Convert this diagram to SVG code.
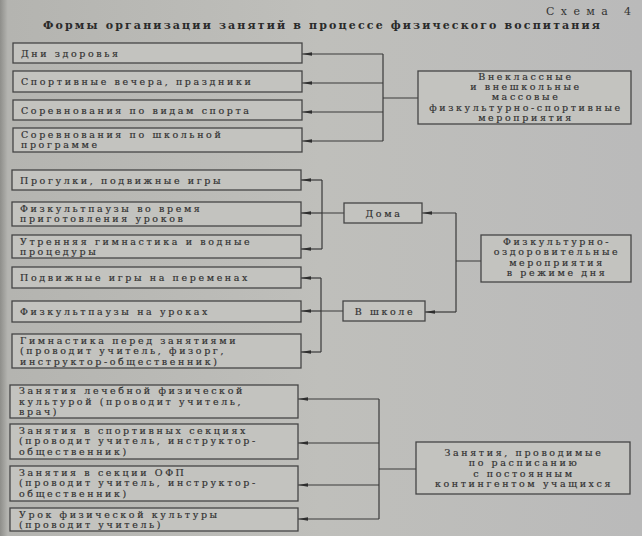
<svg xmlns="http://www.w3.org/2000/svg" width="642" height="536" viewBox="0 0 642 536">
<defs>
<linearGradient id="bg" x1="0" y1="0" x2="1" y2="0">
<stop offset="0" stop-color="#8e8e8a"/>
<stop offset="0.012" stop-color="#b4b4b0"/>
<stop offset="0.5" stop-color="#bfbfbb"/>
<stop offset="1" stop-color="#bababa"/>
</linearGradient>
<marker id="ah" markerUnits="userSpaceOnUse" markerWidth="11" markerHeight="6" refX="10" refY="3" orient="auto">
<path d="M0,1.2 L10,3 L0,4.8 z" fill="#2e2e2e"/>
</marker>
<style>
.box{fill:#c3c3bf;stroke:#454545;stroke-width:1.3}
.t{font-family:"DejaVu Serif","Liberation Serif",serif;font-size:9.5px;letter-spacing:2.6px;fill:#2f2f2f;stroke:#3a3a3a;stroke-width:0.2}
.c{text-anchor:middle}
.ln{stroke:#3a3a3a;stroke-width:1.2;fill:none}
.ar{marker-end:url(#ah)}
.title{font-family:"DejaVu Serif","Liberation Serif",serif;font-size:11px;font-weight:bold;fill:#2a2a2a}
.sch{font-family:"DejaVu Serif","Liberation Serif",serif;font-size:11px;fill:#333}
</style>
</defs>
<rect x="0" y="0" width="642" height="536" fill="url(#bg)"/>
<text class="sch" x="546" y="15" textLength="85" lengthAdjust="spacing">Схема 4</text>
<text class="title" x="43" y="29" textLength="557" lengthAdjust="spacing">Формы организации занятий в процессе физического воспитания</text>

<g id="connectors">
<path class="ln" d="M383,54 V141 M383,98 H418"/>
<path class="ln ar" d="M383,54 H302"/>
<path class="ln ar" d="M383,83 H302"/>
<path class="ln ar" d="M383,112 H302"/>
<path class="ln ar" d="M383,141 H302"/>
<path class="ln" d="M322,180 V249 M344,213 H322"/>
<path class="ln ar" d="M322,180 H301"/>
<path class="ln ar" d="M322,213 H301"/>
<path class="ln ar" d="M322,249 H301"/>
<path class="ln" d="M321,278 V352 M343,311 H321"/>
<path class="ln ar" d="M321,278 H301"/>
<path class="ln ar" d="M321,311 H301"/>
<path class="ln ar" d="M321,352 H301"/>
<path class="ln" d="M456,213 V312 M481,261 H456"/>
<path class="ln ar" d="M456,213 H422"/>
<path class="ln ar" d="M456,312 H425"/>
<path class="ln" d="M379,399 V519 M416,469 H379"/>
<path class="ln ar" d="M379,399 H298"/>
<path class="ln ar" d="M379,443 H298"/>
<path class="ln ar" d="M379,485 H298"/>
<path class="ln ar" d="M379,519 H298"/>
</g>

<g id="n1"><rect class="box" x="13" y="43" width="289" height="20"/><text class="t" x="21" y="56.5">Дни здоровья</text></g>
<g id="n2"><rect class="box" x="13" y="71" width="289" height="21"/><text class="t" x="21" y="85">Спортивные вечера, праздники</text></g>
<g id="n3"><rect class="box" x="13" y="100" width="289" height="20"/><text class="t" x="21" y="113.5">Соревнования по видам спорта</text></g>
<g id="n4"><rect class="box" x="13" y="128" width="289" height="24"/><text class="t" x="21" y="137.5">Соревнования по школьной</text><text class="t" x="21" y="148">программе</text></g>
<g id="r1"><rect class="box" x="418" y="71" width="213" height="53"/>
<text class="t c" x="526" y="80">Внеклассные</text>
<text class="t c" x="526" y="90.2">и внешкольные</text>
<text class="t c" x="526" y="100.4">массовые</text>
<text class="t c" x="526" y="110.6">физкультурно-спортивные</text>
<text class="t c" x="526" y="120.8">мероприятия</text></g>

<g id="p1"><rect class="box" x="12" y="170" width="289" height="20"/><text class="t" x="20" y="183.5">Прогулки, подвижные игры</text></g>
<g id="p2"><rect class="box" x="12" y="202" width="289" height="24"/><text class="t" x="20" y="211.5">Физкультпаузы во время</text><text class="t" x="20" y="222">приготовления уроков</text></g>
<g id="p3"><rect class="box" x="12" y="235" width="289" height="23"/><text class="t" x="20" y="244.5">Утренняя гимнастика и водные</text><text class="t" x="20" y="255">процедуры</text></g>
<g id="p4"><rect class="box" x="12" y="267" width="289" height="21"/><text class="t" x="20" y="281">Подвижные игры на переменах</text></g>
<g id="p5"><rect class="box" x="12" y="301" width="289" height="21"/><text class="t" x="20" y="314.5">Физкультпаузы на уроках</text></g>
<g id="p6"><rect class="box" x="12" y="334" width="289" height="34"/><text class="t" x="20" y="343.5">Гимнастика перед занятиями</text><text class="t" x="20" y="354">(проводит учитель, физорг,</text><text class="t" x="20" y="364.5">инструктор-общественник)</text></g>
<g id="doma"><rect class="box" x="344" y="203" width="78" height="20"/><text class="t c" x="384" y="216.5">Дома</text></g>
<g id="shkola"><rect class="box" x="343" y="301" width="82" height="20"/><text class="t c" x="385" y="314.5">В школе</text></g>
<g id="r2"><rect class="box" x="481" y="235" width="150" height="47"/>
<text class="t c" x="557" y="245">Физкультурно-</text>
<text class="t c" x="557" y="255.3">оздоровительные</text>
<text class="t c" x="557" y="265.6">мероприятия</text>
<text class="t c" x="557" y="275.9">в режиме дня</text></g>

<g id="s1"><rect class="box" x="10" y="385" width="288" height="33"/><text class="t" x="19" y="394">Занятия лечебной физической</text><text class="t" x="19" y="404.5">культурой (проводит учитель,</text><text class="t" x="19" y="415">врач)</text></g>
<g id="s2"><rect class="box" x="10" y="424" width="288" height="35"/><text class="t" x="19" y="433.5">Занятия в спортивных секциях</text><text class="t" x="19" y="444">(проводит учитель, инструктор-</text><text class="t" x="19" y="454.5">общественник)</text></g>
<g id="s3"><rect class="box" x="10" y="466" width="288" height="35"/><text class="t" x="19" y="475.5">Занятия в секции ОФП</text><text class="t" x="19" y="486">(проводит учитель, инструктор-</text><text class="t" x="19" y="496.5">общественник)</text></g>
<g id="s4"><rect class="box" x="10" y="508" width="288" height="23"/><text class="t" x="19" y="517.5">Урок физической культуры</text><text class="t" x="19" y="528">(проводит учитель)</text></g>
<g id="r3"><rect class="box" x="416" y="442" width="214" height="52"/>
<text class="t c" x="524" y="456">Занятия, проводимые</text>
<text class="t c" x="524" y="466.3">по расписанию</text>
<text class="t c" x="524" y="476.6">с постоянным</text>
<text class="t c" x="524" y="486.9">контингентом учащихся</text></g>
</svg>
